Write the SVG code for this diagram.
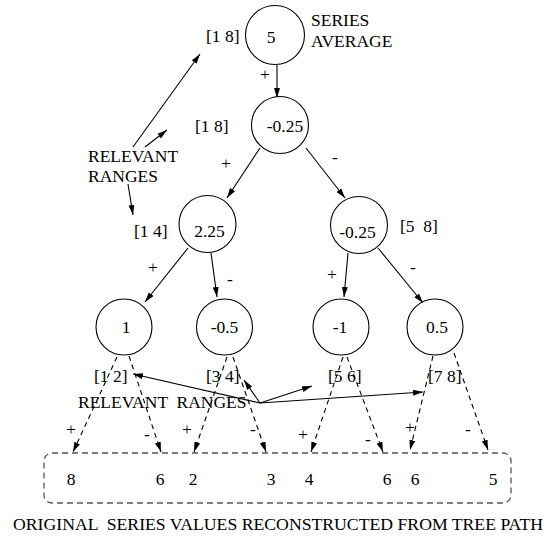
<svg xmlns="http://www.w3.org/2000/svg" width="549" height="537" viewBox="0 0 549 537">
<style>
text{font-family:"Liberation Serif","Times New Roman",serif;font-size:17.5px;fill:#000}
.m{text-anchor:middle}
circle{fill:#fff;stroke:#000;stroke-width:1.1}
.a{stroke:#000;stroke-width:1.1;fill:none;marker-end:url(#ah)}
.d{stroke:#000;stroke-width:1.1;fill:none;stroke-dasharray:5 4;marker-end:url(#ah)}
.box{fill:none;stroke:#555;stroke-width:1.3;stroke-dasharray:6 4}
</style>
<defs>
<marker id="ah" markerUnits="userSpaceOnUse" markerWidth="11" markerHeight="7" refX="10" refY="3" orient="auto">
<path d="M0,0 L10,3 L0,6 z" fill="#000"/>
</marker>
</defs>
<rect width="549" height="537" fill="#fff"/>
<g id="connectors">
<line class="a" x1="277" y1="65" x2="277" y2="98"/>
<line class="a" x1="260" y1="148" x2="227" y2="198"/>
<line class="a" x1="306" y1="148" x2="345" y2="198"/>
<line class="a" x1="188" y1="248" x2="145" y2="302"/>
<line class="a" x1="211" y1="253" x2="217" y2="297"/>
<line class="a" x1="348" y1="253" x2="344" y2="297"/>
<line class="a" x1="378" y1="248" x2="423" y2="303"/>
<line class="d" x1="117" y1="357" x2="73" y2="452"/>
<line class="d" x1="129" y1="356" x2="161" y2="452"/>
<line class="d" x1="227" y1="357" x2="194" y2="452"/>
<line class="d" x1="233" y1="357" x2="266" y2="452"/>
<line class="d" x1="343" y1="357" x2="311" y2="452"/>
<line class="d" x1="347" y1="357" x2="383" y2="452"/>
<line class="d" x1="433" y1="356" x2="410" y2="450"/>
<line class="d" x1="454" y1="353" x2="488" y2="450"/>
<line class="a" x1="133" y1="147" x2="200" y2="54"/>
<line class="a" x1="145" y1="147" x2="167" y2="130"/>
<line class="a" x1="128" y1="184" x2="133" y2="215"/>
<line class="a" x1="260" y1="403" x2="133" y2="374"/>
<line class="a" x1="260" y1="403" x2="244" y2="380"/>
<line class="a" x1="260" y1="403" x2="312" y2="386"/>
<line class="a" x1="260" y1="403" x2="423" y2="392"/>
</g>
<g id="n-root"><circle cx="275" cy="35" r="29.5"/><text class="m" x="271" y="43">5</text></g>
<g id="n-l1"><circle cx="280" cy="125" r="28.5"/><text class="m" x="285" y="132">-0.25</text></g>
<g id="n-l2a"><circle cx="207.5" cy="224" r="28.5"/><text class="m" x="209.5" y="237">2.25</text></g>
<g id="n-l2b"><circle cx="359" cy="225" r="28.5"/><text class="m" x="357.5" y="238">-0.25</text></g>
<g id="n-l3a"><circle cx="124" cy="327" r="28"/><text class="m" x="126" y="333">1</text></g>
<g id="n-l3b"><circle cx="224.5" cy="327" r="28"/><text class="m" x="224.5" y="333">-0.5</text></g>
<g id="n-l3c"><circle cx="341" cy="327" r="28"/><text class="m" x="340" y="333">-1</text></g>
<g id="n-l3d"><circle cx="435" cy="327" r="28"/><text class="m" x="437" y="333">0.5</text></g>
<g id="series-box">
<rect class="box" x="44" y="453" width="467" height="50" rx="8"/>
<text class="m" x="71" y="485">8</text>
<text class="m" x="160" y="485">6</text>
<text class="m" x="193" y="485">2</text>
<text class="m" x="271" y="485">3</text>
<text class="m" x="309" y="485">4</text>
<text class="m" x="387" y="485">6</text>
<text class="m" x="415" y="485">6</text>
<text class="m" x="493" y="485">5</text>
</g>
<g id="labels">
<text x="311" y="26">SERIES</text>
<text x="311" y="47">AVERAGE</text>
<text x="206" y="42">[1 8]</text>
<text x="195" y="132">[1 8]</text>
<text x="134" y="237">[1 4]</text>
<text x="400" y="232" xml:space="preserve">[5  8]</text>
<text x="88" y="162">RELEVANT</text>
<text x="88" y="182">RANGES</text>
<text class="m" x="265" y="80">+</text>
<text class="m" x="226" y="169">+</text>
<text class="m" x="335" y="163">-</text>
<text class="m" x="153" y="273">+</text>
<text class="m" x="230" y="285">-</text>
<text class="m" x="332" y="280">+</text>
<text class="m" x="413" y="273">-</text>
<text x="94" y="382">[1 2]</text>
<text x="206" y="382">[3 4]</text>
<text x="328" y="382">[5 6]</text>
<text x="428" y="382">[7 8]</text>
<text x="78" y="408" xml:space="preserve">RELEVANT  RANGES</text>
<text class="m" x="71" y="435">+</text>
<text class="m" x="147" y="440">-</text>
<text class="m" x="187" y="435">+</text>
<text class="m" x="253" y="435">-</text>
<text class="m" x="303" y="440">+</text>
<text class="m" x="368" y="445">-</text>
<text class="m" x="410" y="433">+</text>
<text class="m" x="468" y="435">-</text>
<text x="13" y="530" style="font-size:17.5px" textLength="530" lengthAdjust="spacingAndGlyphs" xml:space="preserve">ORIGINAL  SERIES VALUES RECONSTRUCTED FROM TREE PATH</text>
</g>
</svg>
